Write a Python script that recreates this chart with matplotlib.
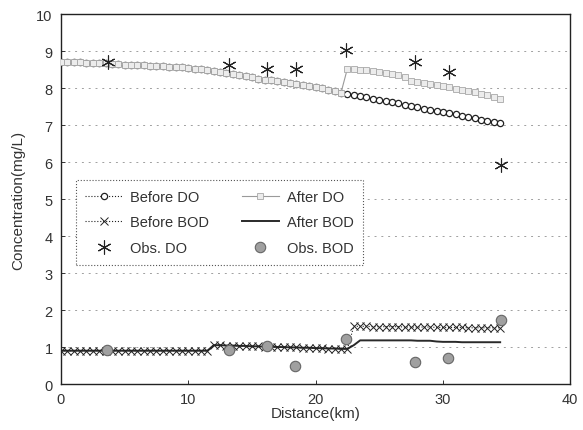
import matplotlib
matplotlib.use("Agg")
import matplotlib.pyplot as plt

plt.rcParams['font.family'] = ['Liberation Sans', 'DejaVu Sans']

# ---------------- data ----------------
distance = [0.0, 0.5, 1.0, 1.5, 2.0, 2.5, 3.0, 3.5, 4.0, 4.5,
            5.0, 5.5, 6.0, 6.5, 7.0, 7.5, 8.0, 8.5, 9.0, 9.5,
            10.0, 10.5, 11.0, 11.5, 12.0, 12.5, 13.0, 13.5, 14.0, 14.5,
            15.0, 15.5, 16.0, 16.5, 17.0, 17.5, 18.0, 18.5, 19.0, 19.5,
            20.0, 20.5, 21.0, 21.5, 22.0, 22.5, 23.0, 23.5, 24.0, 24.5,
            25.0, 25.5, 26.0, 26.5, 27.0, 27.5, 28.0, 28.5, 29.0, 29.5,
            30.0, 30.5, 31.0, 31.5, 32.0, 32.5, 33.0, 33.5, 34.0, 34.5]

before_do = [8.72, 8.71, 8.71, 8.70, 8.69, 8.68, 8.68, 8.67, 8.66, 8.65,
             8.64, 8.64, 8.63, 8.62, 8.61, 8.60, 8.59, 8.58, 8.57, 8.56,
             8.55, 8.53, 8.52, 8.50, 8.47, 8.45, 8.42, 8.39, 8.36, 8.33,
             8.30, 8.26, 8.23, 8.21, 8.19, 8.16, 8.14, 8.12, 8.09, 8.06,
             8.03, 8.00, 7.96, 7.92, 7.88, 7.84, 7.82, 7.79, 7.75, 7.72,
             7.69, 7.65, 7.62, 7.59, 7.55, 7.52, 7.49, 7.45, 7.42, 7.39,
             7.35, 7.32, 7.29, 7.25, 7.22, 7.19, 7.15, 7.12, 7.09, 7.05]

after_do = [8.72, 8.71, 8.71, 8.70, 8.69, 8.68, 8.68, 8.67, 8.66, 8.65,
            8.64, 8.64, 8.63, 8.62, 8.61, 8.60, 8.59, 8.58, 8.57, 8.56,
            8.55, 8.53, 8.52, 8.50, 8.47, 8.45, 8.42, 8.39, 8.36, 8.33,
            8.30, 8.26, 8.23, 8.21, 8.19, 8.16, 8.14, 8.12, 8.09, 8.06,
            8.03, 8.00, 7.96, 7.92, 7.88, 8.53, 8.52, 8.50, 8.48, 8.46,
            8.44, 8.41, 8.38, 8.35, 8.31, 8.20, 8.17, 8.14, 8.11, 8.08,
            8.05, 8.02, 7.99, 7.96, 7.93, 7.89, 7.85, 7.81, 7.77, 7.72]

before_bod = [0.90, 0.90, 0.90, 0.90, 0.90, 0.90, 0.90, 0.90, 0.90, 0.90,
              0.90, 0.90, 0.90, 0.90, 0.90, 0.90, 0.90, 0.90, 0.90, 0.90,
              0.90, 0.90, 0.90, 0.90, 1.05, 1.05, 1.04, 1.04, 1.03, 1.03,
              1.02, 1.02, 1.01, 1.01, 1.00, 1.00, 0.99, 0.99, 0.98, 0.98,
              0.97, 0.97, 0.96, 0.96, 0.95, 0.95, 1.56, 1.56, 1.56, 1.55,
              1.55, 1.55, 1.55, 1.55, 1.54, 1.54, 1.54, 1.54, 1.54, 1.53,
              1.53, 1.53, 1.53, 1.53, 1.52, 1.52, 1.52, 1.52, 1.52, 1.52]

after_bod = [0.90, 0.90, 0.90, 0.90, 0.90, 0.90, 0.90, 0.90, 0.90, 0.90,
             0.90, 0.90, 0.90, 0.90, 0.90, 0.90, 0.90, 0.90, 0.90, 0.90,
             0.90, 0.90, 0.90, 0.90, 1.05, 1.05, 1.04, 1.04, 1.03, 1.03,
             1.02, 1.02, 1.01, 1.01, 1.00, 1.00, 0.99, 0.99, 0.98, 0.98,
             0.97, 0.97, 0.96, 0.96, 0.95, 0.95, 1.05, 1.18, 1.18, 1.18,
             1.18, 1.18, 1.18, 1.18, 1.18, 1.18, 1.17, 1.17, 1.17, 1.15,
             1.14, 1.14, 1.14, 1.13, 1.13, 1.13, 1.13, 1.13, 1.13, 1.13]

obs_x = [3.7, 13.2, 16.2, 18.45, 22.4, 27.8, 30.5, 34.6]
obs_do = [8.72, 8.64, 8.52, 8.52, 9.02, 8.72, 8.45, 5.93]
obs_bod_x = [3.6, 13.2, 16.2, 18.4, 22.4, 27.8, 30.4, 34.6]
obs_bod = [0.91, 0.91, 1.03, 0.50, 1.22, 0.60, 0.71, 1.72]

x_ticks = [0, 10, 20, 30, 40]
y_ticks = [0, 1, 2, 3, 4, 5, 6, 7, 8, 9, 10]

# ---------------- figure ----------------
fig = plt.figure(figsize=(5.83, 4.31), dpi=100)
ax = fig.add_axes([0.1046, 0.1067, 0.8734, 0.858])

txt = '#333333'
for y in y_ticks[1:-1]:
    ax.axhline(y, color='#a0a0a0', linestyle=(0, (2, 5)), linewidth=0.7, zorder=0)

ax.plot(distance, after_bod, color='#2a2a2a', linewidth=1.4, zorder=2,
        label='After BOD')
ax.plot(distance, before_bod, color='#222222', linestyle=':', linewidth=0.8,
        marker='x', markersize=6, markeredgewidth=0.7, zorder=3,
        label='Before BOD')
ax.plot(distance, before_do, color='#222222', linestyle=':', linewidth=0.8,
        marker='o', markersize=4.5, markerfacecolor='white',
        markeredgecolor='#222222', markeredgewidth=0.9, zorder=3,
        label='Before DO')
ax.plot(distance, after_do, color='#9a9a9a', linestyle='-', linewidth=0.8,
        marker='s', markersize=4.3, markerfacecolor='#ececec',
        markeredgecolor='#a8a8a8', markeredgewidth=0.6, zorder=4,
        label='After DO')
ax.plot(obs_x, obs_do, linestyle='none', marker=(6, 2, 0), markersize=10,
        markeredgecolor='#222222', markeredgewidth=0.8, zorder=5,
        label='Obs. DO')
ax.plot(obs_bod_x, obs_bod, linestyle='none', marker='o', markersize=7.5,
        markerfacecolor='#a0a0a0', markeredgecolor='#666666',
        markeredgewidth=0.8, zorder=5, label='Obs. BOD')

ax.set_xlim(0, 40)
ax.set_ylim(0, 10)
ax.set_xticks(x_ticks)
ax.set_yticks(y_ticks)
ax.tick_params(direction='in', length=3, labelsize=10.5, colors=txt,
               width=0.7, pad=6)
for s in ax.spines.values():
    s.set_color('#222222')
    s.set_linewidth(1.0)

ax.set_xlabel('Distance(km)', fontsize=11, color=txt, labelpad=0)
ax.set_ylabel('Concentration(mg/L)', fontsize=11, color=txt, labelpad=8)

h, l = ax.get_legend_handles_labels()
order = ['Before DO', 'Before BOD', 'Obs. DO', 'After DO', 'After BOD', 'Obs. BOD']
hd = dict(zip(l, h))
leg = ax.legend([hd[k] for k in order], order, ncol=2, loc='upper left',
                bbox_to_anchor=(0.029, 0.551), borderaxespad=0,
                fontsize=10.5, labelspacing=0.8, handlelength=2.6,
                handletextpad=0.5, columnspacing=2.2, borderpad=0.65,
                fancybox=False, framealpha=1, edgecolor='#555555')
leg.get_frame().set_linestyle(':')
leg.get_frame().set_linewidth(0.8)
for t in leg.get_texts():
    t.set_color(txt)

fig.savefig('out.png', dpi=100)
